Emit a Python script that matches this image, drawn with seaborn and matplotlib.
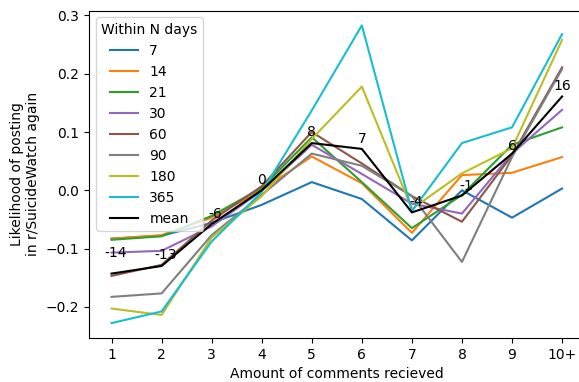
import matplotlib
matplotlib.use("Agg")
import matplotlib.pyplot as plt
import seaborn as sns
import pandas as pd

x_labels = ["1", "2", "3", "4", "5", "6", "7", "8", "9", "10+"]
x_pos = [1, 2, 3, 4, 5, 6, 7, 8, 9, 10]
series_names = ["7", "14", "21", "30", "60", "90", "180", "365"]

d7 = [-0.083, -0.078, -0.056, -0.025, 0.014, -0.015, -0.086, 0.000, -0.047, 0.003]
d14 = [-0.083, -0.077, -0.047, 0.000, 0.058, 0.012, -0.073, 0.026, 0.030, 0.057]
d21 = [-0.085, -0.079, -0.044, 0.004, 0.091, 0.014, -0.065, -0.008, 0.078, 0.108]
d30 = [-0.107, -0.104, -0.062, -0.001, 0.078, 0.028, -0.023, -0.040, 0.063, 0.138]
d60 = [-0.147, -0.128, -0.052, 0.007, 0.100, 0.046, -0.010, -0.054, 0.060, 0.211]
d90 = [-0.183, -0.177, -0.077, -0.008, 0.063, 0.042, -0.010, -0.123, 0.057, 0.208]
d180 = [-0.203, -0.214, -0.081, -0.010, 0.088, 0.178, -0.032, 0.029, 0.072, 0.258]
d365 = [-0.228, -0.208, -0.088, -0.003, 0.137, 0.283, -0.036, 0.081, 0.108, 0.268]
mean_vals = [-0.143, -0.130, -0.058, 0.000, 0.081, 0.071, -0.038, -0.009, 0.063, 0.161]

all_series = [d7, d14, d21, d30, d60, d90, d180, d365]
colors = ["#1f77b4", "#ff7f0e", "#2ca02c", "#9467bd", "#8c564b",
          "#7f7f7f", "#bcbd22", "#17becf"]

rows = []
for name, vals in zip(series_names, all_series):
    for xp, v in zip(x_pos, vals):
        rows.append({"x": xp, "value": v, "Within N days": name})
df = pd.DataFrame(rows)
df_mean = pd.DataFrame({"x": x_pos, "value": mean_vals})

fig = plt.figure(figsize=(5.79, 3.82), dpi=100)
ax = fig.add_axes([0.1537, 0.1152, 0.856, 0.8573])

sns.lineplot(data=df, x="x", y="value", hue="Within N days",
             hue_order=series_names, palette=dict(zip(series_names, colors)),
             ax=ax, linewidth=1.5)
sns.lineplot(data=df_mean, x="x", y="value", color="black", ax=ax,
             linewidth=1.5, label="mean")

# value labels for the mean line (in percent)
label_dy = [21, 11, 10, 10, 11, 10, 10, 10, 8, 10]
for xp, m, dy in zip(x_pos, mean_vals, label_dy):
    txt = str(int(round(m * 100)))
    dx = 4 if m < -0.005 else 0
    ax.annotate(txt, (xp, m), xytext=(dx * 0.72, dy * 0.72),
                textcoords="offset points", ha="center", va="center",
                fontsize=10, color="black")

ax.set_xticks(x_pos)
ax.set_xticklabels(x_labels)
ax.set_xlabel("Amount of comments recieved")
ax.set_ylabel("Likelihood of posting\nin r/SuicideWatch again")
ax.set_yticks([-0.2, -0.1, 0.0, 0.1, 0.2, 0.3])
ax.set_yticklabels(["\u22120.2", "\u22120.1", "0.0", "0.1", "0.2", "0.3"])

handles, labels = ax.get_legend_handles_labels()
ax.legend(handles, labels, title="Within N days", loc="upper left")

fig.savefig("out.png", dpi=100)
